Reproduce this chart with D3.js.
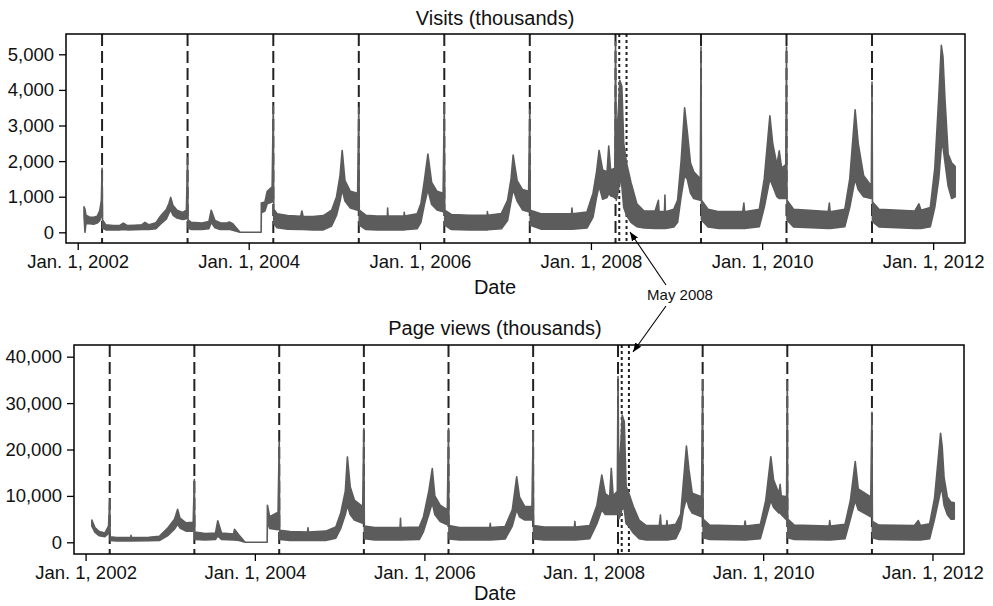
<!DOCTYPE html>
<html lang="en">
<head>
<meta charset="UTF-8">
<script src="https://d3js.org/d3.v7.min.js"></script>
<title>Visits and page views</title>
<style>
  body { margin: 0; background: #fff; }
  text { font-family: "Liberation Sans", Arial, Helvetica, sans-serif; }
</style>
</head>
<body>
<div id="chart"></div>
<script>
// daily traffic as [date, low, high] in thousands (band of the noisy daily series)
var visits = [
  ["2002-01-28", 450, 720], ["2002-02-01", 0, 650], ["2002-02-05", 250, 480], ["2002-02-20", 240, 430],
  ["2002-03-10", 230, 420], ["2002-03-25", 260, 450], ["2002-04-05", 330, 600], ["2002-04-12", 480, 900],
  ["2002-04-15", 1800, 1800], ["2002-04-17", 120, 350], ["2002-05-01", 70, 210], ["2002-06-01", 70, 190],
  ["2002-07-01", 70, 200], ["2002-07-15", 80, 260], ["2002-08-01", 70, 190], ["2002-09-01", 75, 200],
  ["2002-10-01", 80, 210], ["2002-10-15", 80, 280], ["2002-11-01", 80, 210], ["2002-12-01", 100, 270],
  ["2002-12-20", 230, 450], ["2003-01-15", 380, 650], ["2003-01-25", 530, 800], ["2003-02-02", 630, 980],
  ["2003-02-12", 480, 750], ["2003-03-01", 400, 620], ["2003-03-25", 360, 560], ["2003-04-10", 380, 620],
  ["2003-04-15", 2100, 2100], ["2003-04-17", 120, 350], ["2003-05-01", 80, 280], ["2003-06-15", 80, 260],
  ["2003-07-15", 100, 300], ["2003-07-25", 280, 620], ["2003-08-10", 130, 330], ["2003-09-01", 80, 270],
  ["2003-10-01", 80, 260], ["2003-10-10", 90, 290], ["2003-10-25", 60, 240], ["2003-11-25", 0, 0],
  ["2004-02-23", 0, 0], ["2004-02-24", 550, 820], ["2004-03-10", 600, 850], ["2004-03-20", 800, 1150],
  ["2004-04-10", 850, 1280], ["2004-04-15", 3550, 3550], ["2004-04-17", 250, 650], ["2004-05-01", 130, 520],
  ["2004-06-15", 90, 470], ["2004-08-10", 80, 450], ["2004-08-15", 80, 600], ["2004-08-20", 80, 450],
  ["2004-10-01", 70, 440], ["2004-11-15", 70, 470], ["2004-12-20", 180, 620], ["2005-01-10", 480, 1000],
  ["2005-01-25", 880, 1600], ["2005-02-03", 1200, 2300], ["2005-02-15", 880, 1450], ["2005-03-10", 680, 1150],
  ["2005-04-10", 620, 1100], ["2005-04-15", 3500, 3500], ["2005-04-17", 200, 620], ["2005-05-15", 80, 480],
  ["2005-07-01", 70, 460], ["2005-08-15", 70, 460], ["2005-08-16", 70, 680], ["2005-08-18", 70, 460],
  ["2005-10-25", 70, 460], ["2005-10-26", 70, 560], ["2005-10-28", 70, 460], ["2005-12-20", 100, 520],
  ["2006-01-05", 280, 800], ["2006-01-20", 780, 1450], ["2006-02-04", 1200, 2200], ["2006-02-20", 780, 1400],
  ["2006-03-15", 630, 1150], ["2006-04-10", 580, 1100], ["2006-04-15", 3600, 3600], ["2006-04-17", 200, 620],
  ["2006-05-15", 80, 500], ["2006-08-01", 70, 480], ["2006-10-15", 70, 480], ["2006-10-16", 70, 580],
  ["2006-10-18", 70, 480], ["2006-12-15", 100, 530], ["2007-01-10", 330, 900], ["2007-01-25", 880, 1500],
  ["2007-02-03", 1200, 2170], ["2007-02-20", 880, 1450], ["2007-03-15", 630, 1200], ["2007-04-10", 580, 1150],
  ["2007-04-15", 3450, 3450], ["2007-04-17", 200, 620], ["2007-06-01", 90, 520], ["2007-10-10", 90, 520],
  ["2007-10-12", 90, 680], ["2007-10-14", 90, 520], ["2007-12-15", 120, 570], ["2008-01-10", 430, 1100],
  ["2008-01-25", 980, 1700], ["2008-02-05", 1300, 2300], ["2008-02-20", 930, 1750], ["2008-03-10", 980, 1700],
  ["2008-03-17", 1100, 2420], ["2008-03-25", 1030, 1750], ["2008-04-12", 980, 1800], ["2008-04-15", 5350, 5350],
  ["2008-04-18", 900, 2500], ["2008-04-28", 1200, 3500], ["2008-05-03", 1500, 4270], ["2008-05-12", 1300, 4100],
  ["2008-05-20", 700, 2500], ["2008-06-01", 480, 1950], ["2008-06-20", 280, 1400], ["2008-07-15", 160, 800],
  ["2008-08-15", 120, 600], ["2008-10-01", 110, 600], ["2008-10-15", 110, 900], ["2008-10-18", 110, 580],
  ["2008-11-10", 110, 580], ["2008-11-12", 110, 1050], ["2008-11-14", 110, 580], ["2008-12-20", 150, 650],
  ["2009-01-05", 280, 900], ["2009-01-20", 1000, 2000], ["2009-02-04", 1600, 3500], ["2009-02-15", 1500, 2850],
  ["2009-03-01", 1100, 1950], ["2009-03-15", 950, 1700], ["2009-04-12", 900, 1500], ["2009-04-15", 5200, 5200],
  ["2009-04-17", 350, 900], ["2009-05-15", 150, 650], ["2009-07-01", 110, 580], ["2009-10-10", 110, 580],
  ["2009-10-15", 110, 820], ["2009-10-18", 110, 580], ["2009-12-20", 160, 650], ["2010-01-10", 700, 1500],
  ["2010-02-03", 1500, 3270], ["2010-02-15", 1300, 2500], ["2010-03-05", 1000, 1900], ["2010-03-15", 950, 2290],
  ["2010-03-25", 950, 1800], ["2010-04-12", 950, 1900], ["2010-04-15", 5200, 5200], ["2010-04-17", 350, 900],
  ["2010-05-15", 150, 650], ["2010-10-10", 110, 580], ["2010-10-15", 110, 820], ["2010-10-18", 110, 580],
  ["2010-12-20", 160, 650], ["2011-01-10", 700, 1500], ["2011-02-02", 1500, 3440], ["2011-02-15", 1200, 2500],
  ["2011-03-10", 1000, 1600], ["2011-04-12", 950, 1300], ["2011-04-15", 4220, 4220], ["2011-04-17", 300, 850],
  ["2011-05-15", 150, 650], ["2011-10-15", 110, 600], ["2011-11-01", 110, 800], ["2011-11-10", 110, 620],
  ["2011-12-20", 160, 700], ["2012-01-08", 700, 1800], ["2012-01-25", 1500, 3800], ["2012-02-05", 2400, 5250],
  ["2012-02-12", 2400, 4930], ["2012-02-20", 2000, 3800], ["2012-03-05", 1300, 2200], ["2012-03-20", 950, 1950],
  ["2012-04-04", 1000, 1850]
];

var pageViews = [
  ["2002-01-28", 3500, 4800], ["2002-02-10", 2200, 3200], ["2002-03-01", 1400, 2300], ["2002-03-25", 1200, 2000],
  ["2002-04-10", 1900, 3500], ["2002-04-15", 9200, 9200], ["2002-04-17", 400, 1200], ["2002-05-15", 300, 1000],
  ["2002-07-15", 300, 1000], ["2002-07-16", 300, 1500], ["2002-07-18", 300, 1000], ["2002-10-01", 350, 1100],
  ["2002-11-15", 400, 1300], ["2002-12-20", 1400, 3000], ["2003-01-20", 2900, 5000], ["2003-02-02", 3900, 7100],
  ["2003-02-12", 3100, 5200], ["2003-03-10", 2400, 4200], ["2003-04-10", 2400, 4300], ["2003-04-15", 13500, 13500],
  ["2003-04-17", 600, 2200], ["2003-06-01", 500, 1900], ["2003-07-15", 600, 2000], ["2003-07-25", 1400, 4650],
  ["2003-08-10", 600, 2000], ["2003-10-01", 500, 1800], ["2003-10-05", 500, 2800], ["2003-10-25", 400, 1500],
  ["2003-11-20", 0, 0], ["2004-02-23", 0, 0], ["2004-02-24", 4500, 8000], ["2004-03-05", 3000, 5500],
  ["2004-04-10", 2700, 6500], ["2004-04-15", 21800, 21800], ["2004-04-17", 600, 2600], ["2004-06-01", 400, 2300],
  ["2004-08-15", 400, 2200], ["2004-08-17", 400, 3150], ["2004-08-19", 400, 2200], ["2004-11-01", 400, 2400],
  ["2004-12-15", 900, 3300], ["2005-01-05", 3000, 6250], ["2005-01-25", 6000, 11000], ["2005-02-03", 8000, 18400],
  ["2005-02-15", 6000, 12000], ["2005-03-05", 4800, 9100], ["2005-04-10", 4100, 7700], ["2005-04-15", 24500, 24500],
  ["2005-04-17", 800, 3500], ["2005-06-01", 500, 3200], ["2005-09-18", 500, 3200], ["2005-09-20", 500, 5170],
  ["2005-09-22", 500, 3200], ["2005-12-10", 600, 3300], ["2005-12-28", 2300, 5500], ["2006-01-20", 6000, 11000],
  ["2006-02-04", 8500, 15900], ["2006-02-15", 6000, 10000], ["2006-03-10", 4500, 8000], ["2006-04-10", 3800, 7000],
  ["2006-04-15", 24500, 24500], ["2006-04-17", 700, 3600], ["2006-06-01", 500, 3200], ["2006-10-10", 500, 3200],
  ["2006-10-12", 500, 4100], ["2006-10-14", 500, 3200], ["2006-12-15", 700, 3400], ["2007-01-15", 3500, 7000],
  ["2007-02-03", 7000, 14100], ["2007-02-15", 5500, 9800], ["2007-03-10", 4800, 7700], ["2007-04-10", 4800, 7700],
  ["2007-04-15", 24000, 24000], ["2007-04-17", 700, 3600], ["2007-06-01", 500, 3300], ["2007-10-10", 500, 3300],
  ["2007-10-12", 500, 4500], ["2007-10-14", 500, 3300], ["2007-12-15", 800, 3600], ["2008-01-15", 4000, 8000],
  ["2008-02-05", 7000, 14500], ["2008-02-20", 6000, 10500], ["2008-03-10", 6000, 9800], ["2008-03-17", 6000, 15950],
  ["2008-03-25", 6000, 10000], ["2008-04-12", 6000, 11000], ["2008-04-15", 35700, 35700], ["2008-04-18", 5000, 14000],
  ["2008-04-28", 6000, 22000], ["2008-05-03", 8000, 27400], ["2008-05-12", 7000, 26000], ["2008-05-20", 4000, 12000],
  ["2008-06-01", 3400, 10500], ["2008-06-20", 2000, 7700], ["2008-07-15", 800, 4800], ["2008-08-15", 500, 3600],
  ["2008-10-10", 500, 3600], ["2008-10-15", 500, 5900], ["2008-10-18", 500, 3600], ["2008-11-10", 500, 3600],
  ["2008-11-12", 500, 4700], ["2008-11-14", 500, 3600], ["2008-12-20", 800, 3900], ["2009-01-10", 3000, 6000],
  ["2009-01-22", 7000, 13000], ["2009-02-04", 9500, 20750], ["2009-02-15", 7500, 15600], ["2009-03-01", 6300, 10600],
  ["2009-04-10", 5500, 9800], ["2009-04-15", 35000, 35000], ["2009-04-17", 1000, 5000], ["2009-05-15", 600, 3700],
  ["2009-10-12", 500, 3500], ["2009-10-15", 500, 4600], ["2009-10-18", 500, 3500], ["2009-12-20", 800, 3900],
  ["2010-01-12", 5000, 9000], ["2010-02-03", 9000, 18450], ["2010-02-15", 7500, 13400], ["2010-03-10", 6300, 10500],
  ["2010-03-15", 6300, 12500], ["2010-03-20", 6000, 10000], ["2010-04-12", 4800, 9800], ["2010-04-15", 34600, 34600],
  ["2010-04-17", 1000, 5000], ["2010-05-15", 600, 3700], ["2010-10-12", 500, 3500], ["2010-10-15", 500, 4700],
  ["2010-10-18", 500, 3500], ["2010-12-20", 800, 3900], ["2011-01-12", 5000, 9000], ["2011-02-02", 9000, 17400],
  ["2011-02-15", 7000, 11500], ["2011-04-10", 5500, 9800], ["2011-04-15", 28000, 28000], ["2011-04-17", 1000, 4500],
  ["2011-05-15", 600, 3700], ["2011-10-15", 500, 3600], ["2011-11-01", 500, 4700], ["2011-11-10", 500, 3600],
  ["2011-12-20", 800, 4000], ["2012-01-10", 5000, 9500], ["2012-02-05", 11000, 23500], ["2012-02-12", 11000, 20600],
  ["2012-02-20", 8000, 14000], ["2012-03-05", 6000, 9800], ["2012-03-20", 5000, 8700], ["2012-04-04", 5000, 8500]
];

// dashed lines: tax day each year; dotted lines bracket May 2008
var taxDays = ["2002-04-15", "2003-04-15", "2004-04-15", "2005-04-15", "2006-04-15",
  "2007-04-15", "2008-04-15", "2009-04-15", "2010-04-15", "2011-04-15"];
var mayBounds = ["2008-05-01", "2008-06-01"];

var dateTicks = ["2002-01-01", "2004-01-01", "2006-01-01", "2008-01-01", "2010-01-01", "2012-01-01"];
var visitTicks = [0, 1000, 2000, 3000, 4000, 5000];
var pageViewTicks = [0, 10000, 20000, 30000, 40000];

var width = 993, height = 606;
var parse = d3.timeParse("%Y-%m-%d");
var col = "#5c5c5c";

var svg = d3.select("#chart").append("svg")
  .attr("width", width).attr("height", height);

// arrow head for the May 2008 note
svg.append("defs").append("marker")
  .attr("id", "arrow").attr("viewBox", "0 0 10 10")
  .attr("refX", 10).attr("refY", 5)
  .attr("markerWidth", 9).attr("markerHeight", 9)
  .attr("markerUnits", "userSpaceOnUse")
  .attr("orient", "auto")
  .append("path").attr("d", "M0,1 L10,5 L0,9 Z").attr("fill", "#000");

function drawPanel(cfg, idx) {
  var x = d3.scaleTime()
    .domain([parse("2001-11-12"), parse("2012-05-16")])
    .range([cfg.left, cfg.right]);
  var y = d3.scaleLinear().domain(cfg.yDomain).range([cfg.bottom, cfg.top]);

  var g = svg.append("g");

  g.append("clipPath").attr("id", "clip" + idx)
    .append("rect")
    .attr("x", cfg.left).attr("y", cfg.top)
    .attr("width", cfg.right - cfg.left).attr("height", cfg.bottom - cfg.top);

  // reference lines go under the series so the tax-day spikes show on top
  g.selectAll(".tax").data(taxDays).enter().append("line")
    .attr("x1", function(d) { return x(parse(d)); })
    .attr("x2", function(d) { return x(parse(d)); })
    .attr("y1", cfg.top).attr("y2", cfg.bottom)
    .attr("stroke", "#222").attr("stroke-width", 2)
    .attr("stroke-dasharray", "12,5");

  g.selectAll(".may").data(mayBounds).enter().append("line")
    .attr("x1", function(d) { return x(parse(d)); })
    .attr("x2", function(d) { return x(parse(d)); })
    .attr("y1", cfg.top).attr("y2", cfg.bottom)
    .attr("stroke", "#222").attr("stroke-width", 2)
    .attr("stroke-dasharray", "3,3");

  var rows = cfg.data.map(function(d) { return { date: parse(d[0]), lo: d[1], hi: d[2] }; });

  var area = d3.area()
    .x(function(d) { return x(d.date); })
    .y0(function(d) { return y(d.lo); })
    .y1(function(d) { return y(d.hi); });

  g.append("path")
    .datum(rows)
    .attr("clip-path", "url(#clip" + idx + ")")
    .attr("d", area)
    .attr("fill", col)
    .attr("stroke", col)
    .attr("stroke-width", 1.6)
    .attr("stroke-linejoin", "round");

  g.append("rect")
    .attr("x", cfg.left).attr("y", cfg.top)
    .attr("width", cfg.right - cfg.left).attr("height", cfg.bottom - cfg.top)
    .attr("fill", "none").attr("stroke", "#000").attr("stroke-width", 1.5);

  var yAxis = g.append("g")
    .attr("transform", "translate(" + cfg.left + ",0)")
    .call(d3.axisLeft(y).tickValues(cfg.yTicks).tickFormat(d3.format(","))
      .tickSize(7).tickPadding(5));
  var xAxis = g.append("g")
    .attr("transform", "translate(0," + cfg.bottom + ")")
    .call(d3.axisBottom(x).tickValues(dateTicks.map(parse))
      .tickFormat(d3.timeFormat("%b. %-d, %Y")).tickSize(7).tickPadding(5));

  [yAxis, xAxis].forEach(function(a) {
    a.select(".domain").remove();
    a.selectAll(".tick line").attr("stroke", "#000").attr("stroke-width", 1.3);
    a.selectAll(".tick text").attr("fill", "#111").style("font-size", "18.5px");
  });

  svg.append("text")
    .attr("x", 495).attr("y", cfg.titleY)
    .attr("text-anchor", "middle").style("font-size", "20px").attr("fill", "#111")
    .text(cfg.title);

  svg.append("text")
    .attr("x", 495).attr("y", cfg.labelY)
    .attr("text-anchor", "middle").style("font-size", "20px").attr("fill", "#111")
    .text("Date");
}

drawPanel({
  data: visits, left: 66, right: 965, top: 34, bottom: 243,
  yDomain: [-300, 5570], yTicks: visitTicks,
  title: "Visits (thousands)", titleY: 25, labelY: 294
}, 0);

drawPanel({
  data: pageViews, left: 74, right: 964, top: 345, bottom: 554,
  yDomain: [-2520, 42520], yTicks: pageViewTicks,
  title: "Page views (thousands)", titleY: 335, labelY: 600
}, 1);

// May 2008 note with arrows to both panels
svg.append("text")
  .attr("x", 680).attr("y", 300)
  .attr("text-anchor", "middle").style("font-size", "15px").attr("fill", "#111")
  .text("May 2008");

svg.append("line")
  .attr("x1", 666).attr("y1", 285).attr("x2", 630).attr("y2", 232)
  .attr("stroke", "#000").attr("stroke-width", 1.1)
  .attr("marker-end", "url(#arrow)");

svg.append("line")
  .attr("x1", 666).attr("y1", 306).attr("x2", 633).attr("y2", 352)
  .attr("stroke", "#000").attr("stroke-width", 1.1)
  .attr("marker-end", "url(#arrow)");
</script>
</body>
</html>
